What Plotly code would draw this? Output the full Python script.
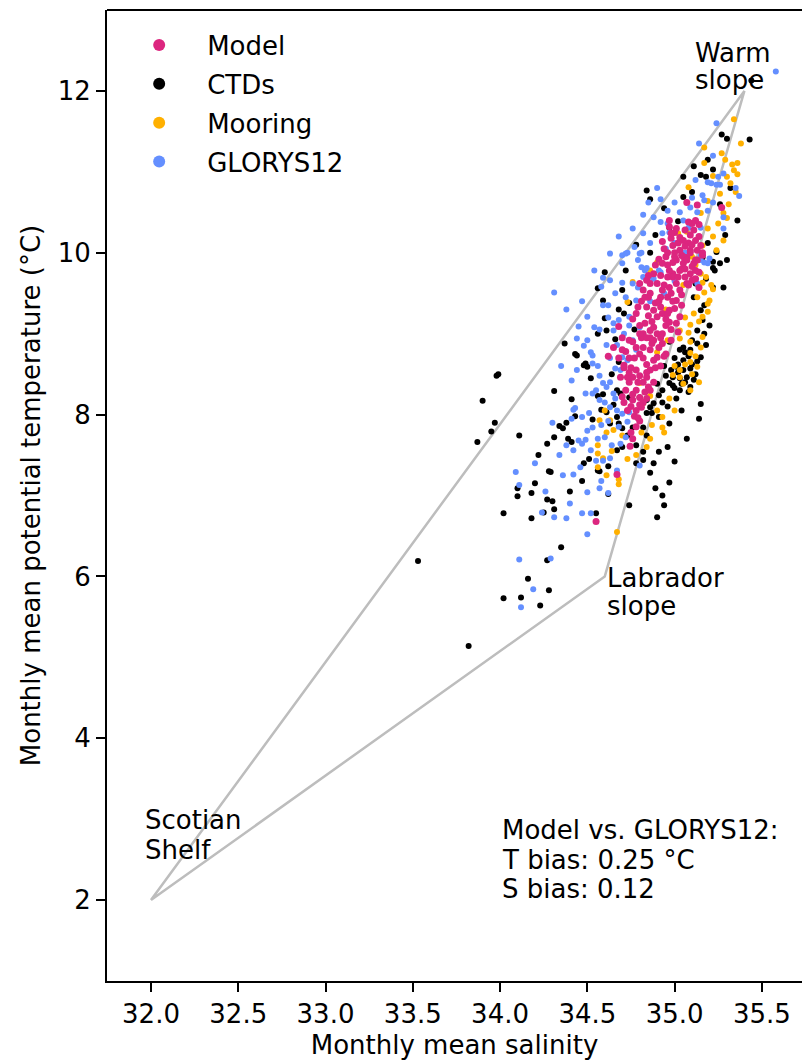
import plotly.graph_objects as go

# ---------------- data ----------------
ctd_sal = [35.44, 35.43, 35.27, 35.30, 35.19, 35.11, 35.15, 35.18, 35.22, 35.05,
           34.84, 34.86, 35.05, 35.36, 35.02, 35.29, 34.97, 34.89, 34.86, 34.60,
           35.24, 35.30, 35.26, 35.23, 35.19, 35.22, 35.22, 35.16, 35.22, 35.28,
           35.15, 35.11, 35.16, 35.17, 35.13, 35.13, 35.15, 35.09, 35.05, 35.03,
           35.05, 35.01, 35.05, 35.09, 34.99, 35.03, 35.07, 35.03, 35.09, 34.97,
           34.97, 34.93, 34.91, 34.93, 34.88, 34.80, 34.87, 34.91, 34.97, 35.07,
           35.14, 35.15, 34.89, 34.93, 34.97, 34.94, 34.90, 34.84, 34.86, 34.84,
           34.82, 34.84, 34.78, 34.82, 34.91, 34.82, 34.88, 34.56, 34.62, 34.28,
           34.56, 34.59, 34.70, 34.74, 34.60, 34.61, 34.66, 34.71, 34.43, 34.49,
           34.50, 34.56, 34.59, 34.67, 34.69, 34.74, 34.65, 34.61, 34.67, 34.68,
           34.63, 34.76, 34.73, 34.37, 34.44, 34.48, 33.99, 33.98, 33.90, 33.97,
           33.95, 33.87, 34.11, 34.31, 34.41, 34.34, 34.36, 34.38, 34.31, 34.27,
           34.39, 34.41, 34.43, 34.53, 34.57, 34.62, 34.29, 34.10, 34.10, 34.18,
           34.27, 34.30, 34.31, 34.25, 34.02, 34.18, 34.55, 34.35, 34.27, 33.53,
           34.16, 34.28, 34.02, 34.12, 34.23, 33.82, 34.51, 34.67, 34.70, 34.74,
           35.00, 35.02, 35.06, 35.10, 34.98, 35.04, 35.08, 35.12, 35.00, 34.95,
           35.02, 35.06, 35.11, 35.13, 34.99, 35.08, 35.01, 34.96, 35.04, 34.90,
           34.94, 35.10, 35.18, 35.20, 35.17, 35.12, 35.18, 34.72, 34.78, 34.68,
           34.56, 34.64, 34.58, 34.70, 34.78, 34.86, 34.96, 35.00, 34.48, 34.40,
           34.47, 34.22, 34.20, 34.52, 34.68, 34.77, 35.26, 35.32, 35.10, 34.94]
ctd_temp = [12.13, 11.40, 11.46, 11.41, 11.15, 11.07, 10.96, 10.94, 11.03, 10.94,
            10.77, 10.66, 10.69, 10.40, 10.39, 10.22, 10.31, 10.22, 10.00, 9.76,
            10.01, 9.91, 9.87, 9.78, 10.12, 9.89, 9.81, 9.94, 9.57, 9.57,
            9.29, 9.45, 9.17, 9.00, 9.04, 8.88, 8.71, 8.80, 8.83, 8.80,
            8.67, 8.59, 8.55, 8.57, 8.46, 8.45, 8.46, 8.30, 8.34, 8.39,
            8.90, 8.30, 8.24, 8.15, 8.14, 8.21, 8.02, 7.97, 7.89, 7.70,
            7.95, 8.13, 7.09, 7.00, 7.16, 6.88, 6.73, 8.18, 8.09, 8.02,
            7.84, 7.74, 7.62, 7.54, 7.54, 7.44, 7.40, 7.31, 7.36, 7.30,
            9.56, 9.41, 9.54, 9.38, 9.19, 9.04, 8.93, 9.25, 8.75, 8.63,
            8.59, 8.23, 8.25, 8.30, 8.26, 8.21, 8.12, 8.03, 7.97, 7.89,
            7.89, 7.84, 7.74, 8.88, 8.73, 8.61, 8.50, 8.48, 8.17, 7.90,
            7.79, 7.66, 7.74, 8.29, 8.19, 7.86, 7.83, 7.90, 7.72, 7.64,
            7.70, 7.66, 7.98, 7.94, 7.30, 7.02, 7.29, 7.09, 6.99, 7.03,
            6.95, 6.93, 6.83, 6.79, 6.78, 6.72, 6.78, 6.36, 6.20, 6.19,
            5.97, 5.83, 5.73, 5.74, 5.64, 5.14, 7.45, 7.56, 7.83, 6.88,
            8.70, 8.52, 8.40, 8.62, 8.55, 8.38, 8.72, 8.50, 8.33, 8.48,
            8.62, 8.77, 8.43, 8.66, 8.36, 8.28, 8.20, 8.10, 8.05, 8.38,
            8.60, 8.92, 8.86, 9.10, 9.35, 9.62, 9.68, 9.78, 10.10, 9.30,
            9.00, 8.50, 8.06, 7.60, 7.40, 7.28, 7.60, 7.42, 7.40, 7.05,
            7.18, 7.50, 7.15, 8.45, 8.65, 9.05, 10.60, 10.80, 10.75, 10.55]

mooring_sal = [35.34, 35.17, 35.27, 35.17, 35.33, 35.36, 35.30, 35.34, 35.36, 35.08,
               35.26, 35.32, 35.19, 35.28, 35.30, 35.25, 35.19, 35.02, 35.28, 35.15,
               35.24, 35.07, 35.16, 34.90, 34.86, 35.15, 35.16, 35.17, 35.13, 35.19,
               35.20, 35.19, 35.16, 35.14, 35.09, 35.03, 35.08, 35.03, 35.09, 35.15,
               35.09, 35.09, 35.13, 35.03, 34.99, 35.03, 35.09, 35.14, 34.93, 34.93,
               34.94, 34.87, 34.86, 34.81, 34.82, 34.86, 34.80, 34.90, 34.96, 34.73,
               34.57, 34.60, 34.61, 34.56, 34.56, 34.59, 34.56, 34.61, 34.68, 34.68,
               34.70, 34.67, 34.63, 34.65, 35.21, 35.18, 35.12, 34.76,
               35.10, 35.12, 35.06, 35.16, 35.11, 35.22, 35.05, 35.00, 34.97, 35.00,
               34.90, 34.84, 34.78, 34.73, 34.64, 35.22, 35.31, 35.35, 35.22, 35.29,
               35.38, 35.05, 35.10, 34.95, 35.06]
mooring_temp = [11.65, 11.30, 11.23, 11.11, 11.09, 11.11, 10.94, 11.02, 10.97, 10.81,
                10.73, 10.86, 10.64, 10.49, 10.43, 10.36, 10.30, 10.24, 10.15, 10.49,
                10.03, 10.26, 10.09, 9.88, 9.78, 9.74, 9.63, 9.51, 9.45, 9.37,
                9.41, 9.27, 9.21, 9.15, 9.11, 9.04, 9.01, 8.94, 8.90, 8.83,
                8.76, 8.65, 8.59, 8.55, 8.49, 8.46, 8.30, 8.40, 7.97, 7.84,
                7.78, 7.87, 7.70, 7.78, 8.14, 8.23, 8.39, 8.77, 8.92, 9.39,
                7.93, 8.05, 7.78, 7.62, 7.52, 7.46, 7.35, 7.25, 7.20, 7.14,
                7.74, 6.55, 7.93, 7.81, 9.60, 9.70, 9.85, 9.64,
                8.50, 8.72, 8.62, 8.96, 9.25, 9.55, 8.38, 8.60, 8.20, 8.05,
                8.05, 7.60, 7.50, 7.45, 7.55, 10.20, 10.60, 10.75, 10.95, 11.15,
                11.35, 9.60, 9.95, 9.30, 9.20]

glorys_sal = [35.58, 35.24, 35.14, 35.12, 35.19, 35.21, 35.24, 35.26, 35.25, 35.35,
              35.37, 35.16, 35.17, 35.00, 34.92, 34.96, 35.09, 35.13, 35.19, 35.28,
              34.82, 34.88, 34.96, 35.03, 35.08, 35.15, 35.28, 34.92, 34.93, 34.97,
              34.82, 34.77, 34.81, 34.86, 34.73, 34.70, 34.63, 34.54, 34.59, 34.79,
              34.81, 34.83, 34.86, 34.93, 34.92, 35.00, 35.06, 35.15, 35.19, 34.70,
              34.72, 34.80, 34.63, 34.70, 34.76, 34.79, 34.84, 34.82, 34.88, 34.91,
              34.31, 34.38, 34.50, 34.54, 34.59, 34.62, 34.65, 34.68, 34.65, 34.74,
              34.78, 34.80, 34.71, 34.45, 34.44, 34.50, 34.52, 34.53, 34.53, 34.61,
              34.67, 34.70, 34.73, 34.69, 34.66, 34.78, 34.41, 34.57, 34.59, 34.61,
              34.63, 34.65, 34.49, 34.53, 34.57, 34.60, 34.63, 34.67, 34.70, 34.74,
              34.73, 34.43, 34.47, 34.41, 34.53, 34.58, 34.60, 34.45, 34.47, 34.49,
              34.42, 34.34, 34.52, 34.55, 34.59, 34.63, 34.67, 34.69, 34.72, 34.80,
              34.09, 34.11, 34.36, 34.42, 34.50, 34.57, 34.62, 34.24, 34.31, 34.38,
              34.47, 34.52, 34.50, 34.42, 34.29, 34.11, 34.19, 34.12, 35.15, 35.17,
              35.20, 35.13, 34.90,
              34.58, 34.66, 34.72, 34.62, 34.57, 34.48, 34.56, 34.63, 34.76, 34.74,
              34.66, 34.55, 34.51, 34.62, 34.68, 34.50, 34.56, 34.38, 34.46, 34.64,
              34.58, 34.40, 34.68, 34.76, 34.95, 35.05, 35.10, 35.22, 35.28, 35.00,
              34.94, 34.86, 35.22, 34.85, 34.44, 34.47, 34.35, 34.30, 34.20, 34.26]
glorys_temp = [12.24, 11.60, 11.35, 10.90, 10.87, 10.86, 10.84, 10.84, 10.94, 10.80,
               10.70, 10.71, 10.65, 10.62, 10.66, 10.52, 10.56, 10.50, 10.52, 10.44,
               10.47, 10.44, 10.36, 10.50, 10.31, 10.31, 10.30, 10.38, 10.24, 10.25,
               10.24, 10.07, 10.00, 10.12, 10.00, 9.97, 9.99, 9.78, 9.69, 9.91,
               9.82, 9.78, 9.70, 9.87, 9.76, 10.12, 10.00, 9.91, 9.87, 9.87,
               9.99, 9.99, 9.66, 9.63, 9.62, 9.57, 9.81, 9.70, 9.68, 9.78,
               9.51, 9.30, 9.21, 9.08, 9.35, 9.35, 9.13, 9.17, 9.04, 9.21,
               9.41, 9.08, 9.00, 9.09, 8.94, 8.92, 8.77, 8.73, 8.63, 8.86,
               8.86, 8.71, 8.67, 8.55, 8.57, 8.80, 8.42, 8.48, 8.39, 8.34,
               8.40, 8.26, 8.26, 8.26, 8.18, 8.15, 8.09, 8.05, 8.01, 8.03,
               7.91, 8.08, 7.97, 7.95, 7.84, 7.87, 7.72, 7.68, 7.64, 7.69,
               7.56, 7.50, 7.56, 7.43, 7.43, 7.46, 7.31, 7.64, 7.72, 7.37,
               7.29, 7.13, 7.25, 7.26, 7.04, 7.09, 7.03, 6.79, 6.73, 6.72,
               6.78, 6.78, 6.52, 8.06, 6.22, 6.21, 5.84, 5.62, 9.97, 9.88,
               9.93, 9.62, 10.80,
               9.58, 9.50, 9.45, 9.20, 9.05, 8.85, 8.60, 8.70, 8.92, 9.10,
               8.20, 8.30, 8.02, 7.92, 7.85, 7.80, 7.70, 7.62, 7.35, 7.62,
               7.18, 6.90, 10.20, 10.30, 10.05, 10.40, 10.68, 10.62, 10.98, 9.65,
               9.50, 9.40, 11.20, 10.62, 8.55, 9.40, 8.60, 7.90, 7.40, 7.05]

model_sal = [34.55, 34.67, 34.76, 34.745, 34.62, 34.68, 34.71, 34.69,
             35.07, 35.13, 35.27, 35.12, 35.10,
             34.97, 35.00, 35.03, 35.06, 35.09, 35.12, 35.15, 34.99, 35.03, 35.09,
             35.16, 35.08, 35.01, 34.96, 35.12, 35.04, 34.94, 35.02, 35.11, 35.14,
             35.06, 35.00, 34.98, 35.13, 35.07, 35.10, 35.04, 34.99, 35.14, 35.06,
             34.95, 35.01,
             34.93, 34.96, 35.05, 35.09, 35.13, 35.14, 35.07, 35.01, 34.86, 34.88,
             34.99, 35.03, 35.05, 34.82, 34.86, 34.97, 35.03, 35.09, 35.11, 35.07,
             34.97, 35.01, 34.93, 34.96, 34.90, 34.92, 34.96, 35.10, 35.12, 34.84,
             34.78, 34.84, 34.88, 34.83, 34.86, 34.88, 34.90, 34.92, 34.93, 34.97,
             35.00, 35.03, 35.01, 34.97, 34.93, 34.81, 34.85, 34.99, 35.04, 34.95,
             34.80, 34.89, 34.76, 34.82, 34.98,
             34.74, 34.76, 34.81, 34.84, 34.88, 34.93, 34.78, 34.82, 34.86, 34.91,
             34.80, 34.90, 34.88, 34.86, 34.75, 34.71, 34.78, 34.95, 34.84, 34.72,
             34.68, 34.65, 34.70, 34.92,
             34.84, 34.85, 34.80, 34.76, 34.74, 34.73, 34.78, 34.80, 34.76, 34.81,
             34.78, 34.83, 34.86, 34.88, 34.72, 34.75, 34.82, 34.77, 34.80, 34.74,
             34.82, 34.70, 34.78, 34.75,
             34.90, 34.95, 34.87, 34.91, 34.94, 34.98, 35.02, 35.06, 34.99, 35.08,
             35.04, 34.92, 34.89, 35.10, 35.05, 35.08, 35.14, 34.98, 34.93, 34.85,
             34.80, 34.83, 34.79, 34.85, 34.80, 34.77, 34.82, 34.87, 34.89, 34.84,
             34.79, 34.76, 34.80, 34.84, 34.73, 34.79, 34.71, 34.74, 34.70, 34.96,
             35.02, 34.98, 34.92, 34.94, 34.86, 35.00, 35.12, 35.16, 34.91, 34.97]
model_temp = [6.68, 7.26, 7.70, 7.61, 8.72, 9.09, 8.58, 8.46,
              10.62, 10.59, 10.56, 10.40, 10.36,
              10.32, 10.25, 10.19, 10.28, 10.22, 10.15, 10.09, 10.09, 10.03, 10.03,
              9.97, 10.12, 9.91, 9.85, 9.91, 9.97, 10.05, 10.12, 10.28, 10.20,
              10.08, 10.00, 10.18, 10.03, 9.94, 9.83, 9.80, 9.74, 9.76, 9.70,
              9.95, 10.30,
              9.87, 10.00, 9.95, 10.00, 9.91, 9.57, 9.62, 9.41, 9.50, 9.74,
              9.70, 9.78, 9.87, 9.54, 9.62, 9.57, 9.54, 9.74, 9.87, 9.91,
              9.78, 9.62, 9.54, 9.70, 9.62, 9.45, 9.45, 9.66, 9.68, 9.66,
              9.25, 9.33, 9.29, 9.13, 9.04, 9.08, 9.21, 9.33, 9.25, 9.29,
              9.31, 9.21, 9.13, 9.14, 9.00, 9.40, 9.45, 9.40, 9.35, 9.18,
              9.10, 9.38, 9.18, 9.00, 9.05,
              8.92, 8.90, 8.95, 8.95, 8.92, 8.88, 8.83, 8.83, 8.80, 8.83,
              8.75, 8.71, 8.67, 8.55, 8.58, 8.61, 8.55, 8.75, 8.62, 8.78,
              8.70, 8.83, 8.95, 8.60,
              8.46, 8.34, 8.48, 8.46, 8.40, 8.46, 8.30, 8.21, 8.18, 8.09,
              8.05, 8.28, 8.30, 8.40, 8.30, 8.10, 8.15, 7.98, 7.92, 8.52,
              8.40, 8.22, 7.85, 7.78,
              9.00, 9.10, 9.15, 9.40, 9.60, 9.50, 9.70, 9.80, 9.88, 9.60,
              9.48, 9.72, 9.85, 10.10, 10.15, 10.38, 10.35, 10.24, 10.14, 9.72,
              9.62, 9.45, 9.33, 9.22, 9.00, 8.70, 8.70, 8.88, 8.58, 8.52,
              8.40, 8.25, 8.12, 8.20, 8.05, 7.96, 8.15, 8.70, 8.80, 9.25,
              9.02, 8.92, 8.95, 8.72, 8.95, 9.95, 9.78, 10.00, 9.92, 10.40]

# triangle of end-member water masses
triangle_sal = [32.0, 34.6, 35.4, 32.0]
triangle_temp = [2.0, 6.0, 12.0, 2.0]

x_ticks = [32.0, 32.5, 33.0, 33.5, 34.0, 34.5, 35.0, 35.5]
y_ticks = [2, 4, 6, 8, 10, 12]

# ---------------- figure ----------------
FONT = "DejaVu Sans"
FS = 26

fig = go.Figure()

fig.add_trace(go.Scatter(x=triangle_sal, y=triangle_temp, mode="lines",
                         line=dict(color="#bdbdbd", width=2.5),
                         showlegend=False, hoverinfo="skip"))

series = [
    ("CTDs", ctd_sal, ctd_temp, "#000000", 6, 2),
    ("Mooring", mooring_sal, mooring_temp, "#FFB000", 6, 3),
    ("GLORYS12", glorys_sal, glorys_temp, "#648FFF", 6, 4),
    ("Model", model_sal, model_temp, "#DC267F", 7, 1),
]
for name, xs, ys, col, sz, rank in series:
    fig.add_trace(go.Scatter(x=xs, y=ys, mode="markers", name=name,
                             legendgroup=name, legendrank=rank,
                             marker=dict(color=col, size=sz, line=dict(width=0))))

def ann(text, x, y):
    fig.add_annotation(x=x, y=y, xref="x", yref="y", text=text, showarrow=False,
                       xanchor="left", yanchor="middle",
                       font=dict(family=FONT, size=FS, color="black"))

ann("Scotian", 31.955, 2.99)
ann("Shelf", 31.955, 2.62)
ann("Labrador", 34.60, 5.985)
ann("slope", 34.60, 5.63)
ann("Warm", 35.105, 12.47)
ann("slope", 35.105, 12.13)
ann("Model vs. GLORYS12:", 34.0, 2.865)
ann("T bias: 0.25 °C", 34.0, 2.495)
ann("S bias: 0.12", 34.0, 2.135)

# top frame line (right spine is cropped off in the reference)
fig.add_shape(type="line", xref="paper", yref="paper", x0=0, x1=1, y0=1, y1=1,
              line=dict(color="black", width=2))

axis_common = dict(showgrid=False, zeroline=False, showline=True, linecolor="black",
                   linewidth=2, ticks="outside", ticklen=9, tickwidth=2,
                   tickcolor="black", mirror=False,
                   tickfont=dict(family=FONT, size=FS, color="black"))

fig.update_layout(
    width=802, height=1060,
    margin=dict(l=107, r=0, t=10, b=79),
    paper_bgcolor="white", plot_bgcolor="white",
    font=dict(family=FONT, size=FS, color="black"),
    xaxis=dict(range=[31.748, 35.730], tickvals=x_ticks,
               ticktext=[f"{v:.1f}" for v in x_ticks],
               title=dict(text="Monthly mean salinity", standoff=10,
                          font=dict(family=FONT, size=FS)),
               **axis_common),
    yaxis=dict(range=[1, 13], tickvals=y_ticks,
               ticktext=[str(v) for v in y_ticks],
               title=dict(text="Monthly mean potential temperature (°C)", standoff=10,
                          font=dict(family=FONT, size=FS)),
               **axis_common),
    showlegend=True,
    legend=dict(x=0.006, y=0.988, xanchor="left", yanchor="top",
                bgcolor="rgba(0,0,0,0)", borderwidth=0,
                font=dict(family=FONT, size=FS, color="black"),
                itemsizing="constant", itemwidth=86,
                traceorder="grouped", tracegroupgap=2),
)

fig.write_html("out.html",
               config={"displayModeBar": False},
               post_script="document.body.style.margin='0px';"
                           "document.body.style.padding='0px';"
                           "document.body.style.overflow='hidden';")
